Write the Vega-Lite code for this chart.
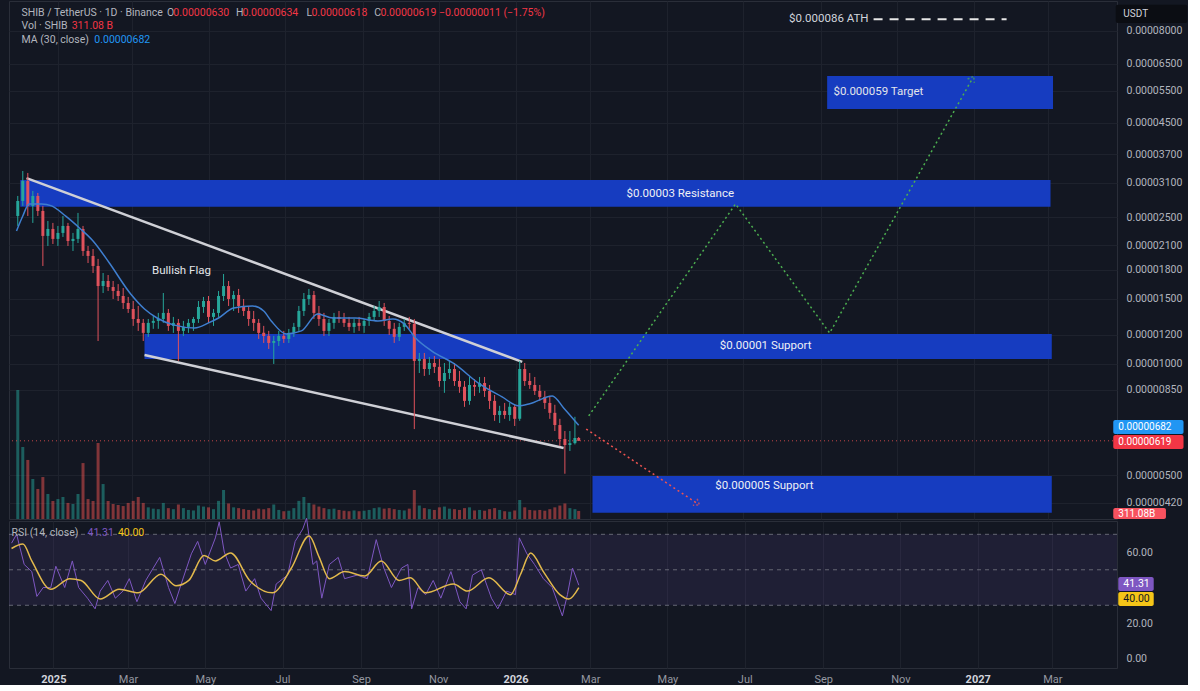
{
  "$schema": "https://vega.github.io/schema/vega-lite/v6.json",
  "background": "#131722",
  "padding": {"left": 8, "top": 0, "right": 0, "bottom": 0},
  "spacing": 2,
  "bounds": "flush",
  "datasets": {
    "candles": [
      {"d":"2024-11-30","o":2.518e-5,"h":2.853e-5,"l":2.366e-5,"c":2.765e-5,"v":4980},
      {"d":"2024-12-04","o":2.765e-5,"h":3.334e-5,"l":2.681e-5,"c":3.133e-5,"v":2780},
      {"d":"2024-12-08","o":3.133e-5,"h":3.293e-5,"l":2.518e-5,"c":2.681e-5,"v":2280},
      {"d":"2024-12-12","o":2.681e-5,"h":2.943e-5,"l":2.411e-5,"c":2.853e-5,"v":1545},
      {"d":"2024-12-16","o":2.853e-5,"h":2.907e-5,"l":2.518e-5,"c":2.598e-5,"v":1160},
      {"d":"2024-12-20","o":2.598e-5,"h":2.681e-5,"l":1.843e-5,"c":2.223e-5,"v":1620},
      {"d":"2024-12-24","o":2.223e-5,"h":2.441e-5,"l":2.088e-5,"c":2.322e-5,"v":965},
      {"d":"2024-12-28","o":2.322e-5,"h":2.411e-5,"l":2.114e-5,"c":2.182e-5,"v":695},
      {"d":"2025-01-01","o":2.182e-5,"h":2.366e-5,"l":2.088e-5,"c":2.265e-5,"v":770},
      {"d":"2025-01-05","o":2.265e-5,"h":2.518e-5,"l":2.209e-5,"c":2.366e-5,"v":850},
      {"d":"2025-01-09","o":2.366e-5,"h":2.411e-5,"l":2.088e-5,"c":2.154e-5,"v":620},
      {"d":"2025-01-13","o":2.154e-5,"h":2.265e-5,"l":2.024e-5,"c":2.182e-5,"v":580},
      {"d":"2025-01-17","o":2.182e-5,"h":2.566e-5,"l":2.127e-5,"c":2.322e-5,"v":965},
      {"d":"2025-01-21","o":2.322e-5,"h":2.366e-5,"l":1.962e-5,"c":2.024e-5,"v":2160},
      {"d":"2025-01-25","o":2.024e-5,"h":2.088e-5,"l":1.877e-5,"c":1.962e-5,"v":770},
      {"d":"2025-01-29","o":1.962e-5,"h":2.049e-5,"l":1.764e-5,"c":1.843e-5,"v":695},
      {"d":"2025-02-02","o":1.843e-5,"h":1.926e-5,"l":1.154e-5,"c":1.626e-5,"v":2935},
      {"d":"2025-02-06","o":1.626e-5,"h":1.764e-5,"l":1.557e-5,"c":1.678e-5,"v":1350},
      {"d":"2025-02-10","o":1.678e-5,"h":1.742e-5,"l":1.577e-5,"c":1.616e-5,"v":695},
      {"d":"2025-02-14","o":1.616e-5,"h":1.678e-5,"l":1.5e-5,"c":1.577e-5,"v":580},
      {"d":"2025-02-18","o":1.577e-5,"h":1.646e-5,"l":1.481e-5,"c":1.528e-5,"v":540},
      {"d":"2025-02-22","o":1.528e-5,"h":1.606e-5,"l":1.409e-5,"c":1.463e-5,"v":500},
      {"d":"2025-02-26","o":1.463e-5,"h":1.519e-5,"l":1.375e-5,"c":1.409e-5,"v":620},
      {"d":"2025-03-02","o":1.409e-5,"h":1.481e-5,"l":1.268e-5,"c":1.324e-5,"v":700},
      {"d":"2025-03-06","o":1.324e-5,"h":1.436e-5,"l":1.229e-5,"c":1.292e-5,"v":850},
      {"d":"2025-03-10","o":1.292e-5,"h":1.324e-5,"l":1.154e-5,"c":1.214e-5,"v":620},
      {"d":"2025-03-14","o":1.214e-5,"h":1.324e-5,"l":1.184e-5,"c":1.292e-5,"v":450},
      {"d":"2025-03-18","o":1.292e-5,"h":1.349e-5,"l":1.245e-5,"c":1.308e-5,"v":400},
      {"d":"2025-03-22","o":1.308e-5,"h":1.375e-5,"l":1.245e-5,"c":1.324e-5,"v":380},
      {"d":"2025-03-26","o":1.324e-5,"h":1.557e-5,"l":1.292e-5,"c":1.375e-5,"v":620},
      {"d":"2025-03-30","o":1.375e-5,"h":1.409e-5,"l":1.229e-5,"c":1.268e-5,"v":420},
      {"d":"2025-04-03","o":1.268e-5,"h":1.341e-5,"l":1.214e-5,"c":1.292e-5,"v":380},
      {"d":"2025-04-07","o":1.292e-5,"h":1.324e-5,"l":1.019e-5,"c":1.229e-5,"v":560},
      {"d":"2025-04-11","o":1.229e-5,"h":1.308e-5,"l":1.191e-5,"c":1.26e-5,"v":420},
      {"d":"2025-04-15","o":1.26e-5,"h":1.324e-5,"l":1.214e-5,"c":1.292e-5,"v":350},
      {"d":"2025-04-19","o":1.292e-5,"h":1.341e-5,"l":1.229e-5,"c":1.324e-5,"v":330},
      {"d":"2025-04-23","o":1.324e-5,"h":1.481e-5,"l":1.292e-5,"c":1.427e-5,"v":520},
      {"d":"2025-04-27","o":1.427e-5,"h":1.519e-5,"l":1.375e-5,"c":1.481e-5,"v":480},
      {"d":"2025-05-01","o":1.481e-5,"h":1.528e-5,"l":1.292e-5,"c":1.341e-5,"v":450},
      {"d":"2025-05-05","o":1.341e-5,"h":1.409e-5,"l":1.268e-5,"c":1.375e-5,"v":380},
      {"d":"2025-05-09","o":1.375e-5,"h":1.577e-5,"l":1.341e-5,"c":1.528e-5,"v":700},
      {"d":"2025-05-13","o":1.528e-5,"h":1.753e-5,"l":1.481e-5,"c":1.626e-5,"v":1120},
      {"d":"2025-05-17","o":1.626e-5,"h":1.678e-5,"l":1.436e-5,"c":1.5e-5,"v":600},
      {"d":"2025-05-21","o":1.5e-5,"h":1.577e-5,"l":1.392e-5,"c":1.538e-5,"v":450},
      {"d":"2025-05-25","o":1.538e-5,"h":1.597e-5,"l":1.375e-5,"c":1.436e-5,"v":420},
      {"d":"2025-05-29","o":1.436e-5,"h":1.5e-5,"l":1.349e-5,"c":1.392e-5,"v":380},
      {"d":"2025-06-02","o":1.392e-5,"h":1.436e-5,"l":1.268e-5,"c":1.324e-5,"v":350},
      {"d":"2025-06-06","o":1.324e-5,"h":1.392e-5,"l":1.229e-5,"c":1.292e-5,"v":330},
      {"d":"2025-06-10","o":1.292e-5,"h":1.324e-5,"l":1.169e-5,"c":1.214e-5,"v":400},
      {"d":"2025-06-14","o":1.214e-5,"h":1.268e-5,"l":1.14e-5,"c":1.191e-5,"v":380},
      {"d":"2025-06-18","o":1.191e-5,"h":1.229e-5,"l":1.098e-5,"c":1.14e-5,"v":420},
      {"d":"2025-06-22","o":1.14e-5,"h":1.191e-5,"l":1.0e-5,"c":1.154e-5,"v":560},
      {"d":"2025-06-26","o":1.154e-5,"h":1.229e-5,"l":1.119e-5,"c":1.191e-5,"v":350},
      {"d":"2025-06-30","o":1.191e-5,"h":1.229e-5,"l":1.14e-5,"c":1.169e-5,"v":300},
      {"d":"2025-07-04","o":1.169e-5,"h":1.244e-5,"l":1.14e-5,"c":1.214e-5,"v":320},
      {"d":"2025-07-08","o":1.214e-5,"h":1.292e-5,"l":1.184e-5,"c":1.26e-5,"v":420},
      {"d":"2025-07-12","o":1.26e-5,"h":1.436e-5,"l":1.229e-5,"c":1.392e-5,"v":700},
      {"d":"2025-07-16","o":1.392e-5,"h":1.557e-5,"l":1.349e-5,"c":1.5e-5,"v":850},
      {"d":"2025-07-20","o":1.5e-5,"h":1.597e-5,"l":1.445e-5,"c":1.538e-5,"v":620},
      {"d":"2025-07-24","o":1.538e-5,"h":1.577e-5,"l":1.324e-5,"c":1.375e-5,"v":560},
      {"d":"2025-07-28","o":1.375e-5,"h":1.436e-5,"l":1.268e-5,"c":1.324e-5,"v":480},
      {"d":"2025-08-01","o":1.324e-5,"h":1.375e-5,"l":1.191e-5,"c":1.229e-5,"v":420},
      {"d":"2025-08-05","o":1.229e-5,"h":1.324e-5,"l":1.191e-5,"c":1.292e-5,"v":380},
      {"d":"2025-08-09","o":1.292e-5,"h":1.375e-5,"l":1.245e-5,"c":1.341e-5,"v":400},
      {"d":"2025-08-13","o":1.341e-5,"h":1.392e-5,"l":1.292e-5,"c":1.324e-5,"v":350},
      {"d":"2025-08-17","o":1.324e-5,"h":1.375e-5,"l":1.26e-5,"c":1.292e-5,"v":320},
      {"d":"2025-08-21","o":1.292e-5,"h":1.341e-5,"l":1.229e-5,"c":1.26e-5,"v":300},
      {"d":"2025-08-25","o":1.26e-5,"h":1.324e-5,"l":1.214e-5,"c":1.292e-5,"v":330},
      {"d":"2025-08-29","o":1.292e-5,"h":1.341e-5,"l":1.229e-5,"c":1.268e-5,"v":300},
      {"d":"2025-09-02","o":1.268e-5,"h":1.324e-5,"l":1.214e-5,"c":1.308e-5,"v":320},
      {"d":"2025-09-06","o":1.308e-5,"h":1.375e-5,"l":1.268e-5,"c":1.341e-5,"v":350},
      {"d":"2025-09-10","o":1.341e-5,"h":1.436e-5,"l":1.308e-5,"c":1.392e-5,"v":420},
      {"d":"2025-09-14","o":1.392e-5,"h":1.481e-5,"l":1.341e-5,"c":1.427e-5,"v":450},
      {"d":"2025-09-18","o":1.427e-5,"h":1.463e-5,"l":1.268e-5,"c":1.308e-5,"v":400},
      {"d":"2025-09-22","o":1.308e-5,"h":1.349e-5,"l":1.198e-5,"c":1.245e-5,"v":420},
      {"d":"2025-09-26","o":1.245e-5,"h":1.292e-5,"l":1.14e-5,"c":1.184e-5,"v":380},
      {"d":"2025-09-30","o":1.184e-5,"h":1.292e-5,"l":1.154e-5,"c":1.26e-5,"v":350},
      {"d":"2025-10-04","o":1.26e-5,"h":1.324e-5,"l":1.229e-5,"c":1.292e-5,"v":330},
      {"d":"2025-10-08","o":1.292e-5,"h":1.341e-5,"l":1.245e-5,"c":1.284e-5,"v":400},
      {"d":"2025-10-12","o":1.284e-5,"h":1.324e-5,"l":6.66e-6,"c":1.019e-5,"v":1120},
      {"d":"2025-10-16","o":1.019e-5,"h":1.071e-5,"l":9.45e-6,"c":1.032e-5,"v":520},
      {"d":"2025-10-20","o":1.032e-5,"h":1.071e-5,"l":9.28e-6,"c":9.69e-6,"v":420},
      {"d":"2025-10-24","o":9.69e-6,"h":1.044e-5,"l":9.34e-6,"c":1.006e-5,"v":380},
      {"d":"2025-10-28","o":1.006e-5,"h":1.051e-5,"l":9.45e-6,"c":9.82e-6,"v":350},
      {"d":"2025-11-01","o":9.82e-6,"h":1.032e-5,"l":8.67e-6,"c":8.99e-6,"v":450},
      {"d":"2025-11-05","o":8.99e-6,"h":1.006e-5,"l":8.35e-6,"c":9.45e-6,"v":480},
      {"d":"2025-11-09","o":9.45e-6,"h":1.019e-5,"l":9.1e-6,"c":9.69e-6,"v":400},
      {"d":"2025-11-13","o":9.69e-6,"h":1.006e-5,"l":8.72e-6,"c":8.99e-6,"v":380},
      {"d":"2025-11-17","o":8.99e-6,"h":9.57e-6,"l":8.35e-6,"c":8.67e-6,"v":350},
      {"d":"2025-11-21","o":8.67e-6,"h":8.99e-6,"l":7.65e-6,"c":7.94e-6,"v":420},
      {"d":"2025-11-25","o":7.94e-6,"h":9.22e-6,"l":7.75e-6,"c":8.77e-6,"v":450},
      {"d":"2025-11-29","o":8.77e-6,"h":9.1e-6,"l":8.19e-6,"c":8.67e-6,"v":330},
      {"d":"2025-12-03","o":8.67e-6,"h":9.22e-6,"l":8.35e-6,"c":8.88e-6,"v":350},
      {"d":"2025-12-07","o":8.88e-6,"h":9.22e-6,"l":8.14e-6,"c":8.45e-6,"v":320},
      {"d":"2025-12-11","o":8.45e-6,"h":8.77e-6,"l":7.55e-6,"c":7.94e-6,"v":380},
      {"d":"2025-12-15","o":7.94e-6,"h":8.24e-6,"l":7.01e-6,"c":7.27e-6,"v":420},
      {"d":"2025-12-19","o":7.27e-6,"h":7.7e-6,"l":6.92e-6,"c":7.46e-6,"v":350},
      {"d":"2025-12-23","o":7.46e-6,"h":7.84e-6,"l":7.1e-6,"c":7.27e-6,"v":300},
      {"d":"2025-12-27","o":7.27e-6,"h":7.84e-6,"l":7.01e-6,"c":7.65e-6,"v":280},
      {"d":"2025-12-31","o":7.65e-6,"h":7.75e-6,"l":6.79e-6,"c":7.1e-6,"v":330},
      {"d":"2026-01-04","o":7.1e-6,"h":1.019e-5,"l":7.01e-6,"c":9.69e-6,"v":735},
      {"d":"2026-01-08","o":9.69e-6,"h":1.006e-5,"l":8.72e-6,"c":8.99e-6,"v":450},
      {"d":"2026-01-12","o":8.99e-6,"h":9.45e-6,"l":8.56e-6,"c":8.77e-6,"v":350},
      {"d":"2026-01-16","o":8.77e-6,"h":9.22e-6,"l":8.24e-6,"c":8.45e-6,"v":330},
      {"d":"2026-01-20","o":8.45e-6,"h":8.77e-6,"l":7.94e-6,"c":8.14e-6,"v":350},
      {"d":"2026-01-24","o":8.14e-6,"h":8.45e-6,"l":7.55e-6,"c":7.84e-6,"v":320},
      {"d":"2026-01-28","o":7.84e-6,"h":8.14e-6,"l":7.1e-6,"c":7.37e-6,"v":380},
      {"d":"2026-02-01","o":7.37e-6,"h":7.75e-6,"l":6.58e-6,"c":6.83e-6,"v":450},
      {"d":"2026-02-05","o":6.83e-6,"h":7.1e-6,"l":5.99e-6,"c":6.26e-6,"v":520},
      {"d":"2026-02-09","o":6.26e-6,"h":6.58e-6,"l":5.04e-6,"c":6.03e-6,"v":600},
      {"d":"2026-02-13","o":6.03e-6,"h":6.58e-6,"l":5.81e-6,"c":6.1e-6,"v":420},
      {"d":"2026-02-17","o":6.1e-6,"h":7.19e-6,"l":6.05e-6,"c":6.3e-6,"v":380},
      {"d":"2026-02-20","o":6.3e-6,"h":6.34e-6,"l":6.18e-6,"c":6.19e-6,"v":311.08}
    ],
    "ma": [
      {"d":"2024-11-29","ma":2.293e-5},{"d":"2024-12-04","ma":2.518e-5},{"d":"2024-12-09","ma":2.714e-5},
      {"d":"2024-12-19","ma":2.714e-5},{"d":"2024-12-27","ma":2.681e-5},{"d":"2025-01-07","ma":2.518e-5},
      {"d":"2025-01-19","ma":2.322e-5},{"d":"2025-01-29","ma":2.154e-5},{"d":"2025-02-11","ma":1.877e-5},
      {"d":"2025-02-28","ma":1.547e-5},{"d":"2025-03-11","ma":1.409e-5},{"d":"2025-03-21","ma":1.332e-5},
      {"d":"2025-04-03","ma":1.276e-5},{"d":"2025-04-20","ma":1.252e-5},{"d":"2025-05-01","ma":1.292e-5},
      {"d":"2025-05-09","ma":1.332e-5},{"d":"2025-05-21","ma":1.418e-5},{"d":"2025-06-05","ma":1.436e-5},
      {"d":"2025-06-14","ma":1.392e-5},{"d":"2025-06-20","ma":1.308e-5},{"d":"2025-07-02","ma":1.206e-5},
      {"d":"2025-07-14","ma":1.229e-5},{"d":"2025-07-27","ma":1.366e-5},{"d":"2025-08-08","ma":1.332e-5},
      {"d":"2025-08-26","ma":1.332e-5},{"d":"2025-09-13","ma":1.308e-5},{"d":"2025-09-25","ma":1.324e-5},
      {"d":"2025-10-04","ma":1.284e-5},{"d":"2025-10-13","ma":1.176e-5},{"d":"2025-10-26","ma":1.084e-5},
      {"d":"2025-11-13","ma":1.0e-5},{"d":"2025-12-03","ma":8.83e-6},{"d":"2025-12-21","ma":8.14e-6},
      {"d":"2026-01-03","ma":7.7e-6},{"d":"2026-01-12","ma":7.8e-6},{"d":"2026-01-30","ma":8.19e-6},
      {"d":"2026-02-08","ma":7.6e-6},{"d":"2026-02-20","ma":6.82e-6}
    ],
    "rsi": [
      {"d":"2024-11-29","rsi":65},{"d":"2024-12-03","rsi":70},{"d":"2024-12-09","rsi":53},{"d":"2024-12-15","rsi":49},
      {"d":"2024-12-19","rsi":35},{"d":"2024-12-24","rsi":40},{"d":"2024-12-30","rsi":40},{"d":"2025-01-03","rsi":52},
      {"d":"2025-01-10","rsi":40},{"d":"2025-01-16","rsi":55},{"d":"2025-01-21","rsi":40},{"d":"2025-01-28","rsi":34},
      {"d":"2025-02-03","rsi":28},{"d":"2025-02-07","rsi":38},{"d":"2025-02-13","rsi":44},{"d":"2025-02-19","rsi":34},
      {"d":"2025-02-25","rsi":38},{"d":"2025-03-02","rsi":45},{"d":"2025-03-08","rsi":32},{"d":"2025-03-15","rsi":44},
      {"d":"2025-03-26","rsi":57},{"d":"2025-04-02","rsi":40},{"d":"2025-04-07","rsi":31},{"d":"2025-04-12","rsi":42},
      {"d":"2025-04-20","rsi":59},{"d":"2025-04-25","rsi":66},{"d":"2025-05-01","rsi":53},{"d":"2025-05-09","rsi":68},
      {"d":"2025-05-12","rsi":77},{"d":"2025-05-16","rsi":60},{"d":"2025-05-21","rsi":51},{"d":"2025-05-27","rsi":53},
      {"d":"2025-06-02","rsi":38},{"d":"2025-06-09","rsi":45},{"d":"2025-06-14","rsi":34},{"d":"2025-06-22","rsi":27},
      {"d":"2025-06-26","rsi":42},{"d":"2025-07-05","rsi":47},{"d":"2025-07-11","rsi":66},{"d":"2025-07-17","rsi":73},
      {"d":"2025-07-20","rsi":79},{"d":"2025-07-25","rsi":53},{"d":"2025-07-28","rsi":55},{"d":"2025-08-01","rsi":34},
      {"d":"2025-08-07","rsi":53},{"d":"2025-08-14","rsi":57},{"d":"2025-08-19","rsi":45},{"d":"2025-08-29","rsi":47},
      {"d":"2025-09-06","rsi":45},{"d":"2025-09-13","rsi":67},{"d":"2025-09-19","rsi":51},{"d":"2025-09-25","rsi":40},
      {"d":"2025-10-03","rsi":51},{"d":"2025-10-08","rsi":53},{"d":"2025-10-11","rsi":28},{"d":"2025-10-16","rsi":40},
      {"d":"2025-10-22","rsi":36},{"d":"2025-10-28","rsi":44},{"d":"2025-11-03","rsi":34},{"d":"2025-11-11","rsi":49},
      {"d":"2025-11-18","rsi":32},{"d":"2025-11-23","rsi":28},{"d":"2025-11-28","rsi":47},{"d":"2025-12-05","rsi":50},
      {"d":"2025-12-13","rsi":34},{"d":"2025-12-18","rsi":28},{"d":"2025-12-25","rsi":38},{"d":"2026-01-01","rsi":36},
      {"d":"2026-01-04","rsi":68},{"d":"2026-01-10","rsi":59},{"d":"2026-01-16","rsi":53},{"d":"2026-01-23","rsi":45},
      {"d":"2026-01-30","rsi":40},{"d":"2026-02-02","rsi":34},{"d":"2026-02-07","rsi":24},{"d":"2026-02-11","rsi":36},
      {"d":"2026-02-15","rsi":51},{"d":"2026-02-20","rsi":41.31}
    ],
    "rsima": [
      {"d":"2024-11-29","m":62},{"d":"2024-12-08","m":64.5},{"d":"2024-12-15","m":55},{"d":"2024-12-30","m":39},
      {"d":"2025-01-14","m":45},{"d":"2025-01-23","m":44},{"d":"2025-02-07","m":33.5},{"d":"2025-02-22","m":39},
      {"d":"2025-03-09","m":37},{"d":"2025-03-27","m":47.5},{"d":"2025-04-08","m":41},{"d":"2025-04-18","m":44},
      {"d":"2025-04-30","m":58},{"d":"2025-05-09","m":55},{"d":"2025-05-21","m":59.5},{"d":"2025-06-05","m":44},
      {"d":"2025-06-23","m":37},{"d":"2025-07-08","m":51},{"d":"2025-07-22","m":69},{"d":"2025-07-30","m":57},
      {"d":"2025-08-07","m":45},{"d":"2025-08-19","m":49},{"d":"2025-09-04","m":46.5},{"d":"2025-09-17","m":55},
      {"d":"2025-10-01","m":44},{"d":"2025-10-10","m":45.5},{"d":"2025-10-22","m":37},{"d":"2025-11-13","m":42},
      {"d":"2025-11-24","m":38},{"d":"2025-12-11","m":45.5},{"d":"2025-12-28","m":36},{"d":"2026-01-05","m":47.5},
      {"d":"2026-01-13","m":59.5},{"d":"2026-01-23","m":49},{"d":"2026-02-05","m":36},{"d":"2026-02-12","m":33.5},
      {"d":"2026-02-20","m":40}
    ],
    "zones": [
      {"name":"Target","start":"2026-09-06","end":"2027-03-05","low":4.91e-5,"high":6.03e-5},
      {"name":"Resistance","start":"2024-12-02","end":"2027-03-03","low":2.665e-5,"high":3.15e-5},
      {"name":"Support 1","start":"2025-03-11","end":"2027-03-04","low":1.032e-5,"high":1.206e-5},
      {"name":"Support 2","start":"2026-03-03","end":"2027-03-04","low":3.95e-6,"high":4.97e-6}
    ],
    "zoneLabels": [
      {"txt":"$0.00003 Resistance","d":"2026-05-12","p":2.89e-5},
      {"txt":"$0.00001 Support","d":"2026-07-19","p":1.119e-5},
      {"txt":"$0.000005 Support","d":"2026-07-18","p":4.67e-6}
    ],
    "noteLabels": [
      {"txt":"$0.000059 Target","d":"2026-09-11","p":5.46e-5},
      {"txt":"Bullish Flag","d":"2025-03-17","p":1.786e-5}
    ],
    "trend": [
      {"d1":"2024-12-07","p1":3.19e-5,"d2":"2026-01-06","p2":1.013e-5},
      {"d1":"2025-03-11","p1":1.057e-5,"d2":"2026-02-08","p2":5.92e-6}
    ],
    "pathUp": [
      {"d":"2026-02-28","p":7.23e-6},
      {"d":"2026-06-25","p":2.714e-5},
      {"d":"2026-09-08","p":1.213e-5},
      {"d":"2026-12-31","p":5.957e-5}
    ],
    "pathDown": [
      {"d":"2026-02-26","p":6.66e-6},
      {"d":"2026-05-26","p":4.175e-6}
    ],
    "hdr": [
      {"kind":"label","txt":"SHIB / TetherUS · 1D · Binance","d":"2024-12-03","p":8.91e-5},
      {"kind":"label","txt":"O","d":"2025-03-29","p":8.91e-5},
      {"kind":"down","txt":"0.00000630","d":"2025-04-03","p":8.91e-5},
      {"kind":"label","txt":"H","d":"2025-05-23","p":8.91e-5},
      {"kind":"down","txt":"0.00000634","d":"2025-05-28","p":8.91e-5},
      {"kind":"label","txt":"L","d":"2025-07-18","p":8.91e-5},
      {"kind":"down","txt":"0.00000618","d":"2025-07-22","p":8.91e-5},
      {"kind":"label","txt":"C","d":"2025-09-10","p":8.91e-5},
      {"kind":"down","txt":"0.00000619  −0.00000011 (−1.75%)","d":"2025-09-15","p":8.91e-5},
      {"kind":"label","txt":"Vol · SHIB","d":"2024-12-03","p":8.22e-5},
      {"kind":"down","txt":"311.08 B","d":"2025-01-12","p":8.22e-5},
      {"kind":"label","txt":"MA (30, close)","d":"2024-12-03","p":7.55e-5},
      {"kind":"ma","txt":"0.00000682","d":"2025-01-30","p":7.55e-5}
    ],
    "tags": [
      {"kind":"ccy","txt":"USDT","d1":"2027-04-24","d2":"2027-06-20","dt":"2027-04-30","lo":8.4e-5,"hi":9.4e-5,"mid":8.87e-5},
      {"kind":"ma","txt":"0.00000682","d1":"2027-04-22","d2":"2027-06-17","dt":"2027-04-26","lo":6.46e-6,"hi":7.05e-6,"mid":6.74e-6},
      {"kind":"down","txt":"0.00000619","d1":"2027-04-22","d2":"2027-06-17","dt":"2027-04-26","lo":5.88e-6,"hi":6.42e-6,"mid":6.14e-6},
      {"kind":"vol","txt":"311.08B","d1":"2027-04-22","d2":"2027-06-03","dt":"2027-04-26","lo":3.8e-6,"hi":4.07e-6,"mid":3.915e-6}
    ],
    "rsiHdr": [
      {"kind":"label","txt":"RSI (14, close)","d":"2024-11-29","r":71},
      {"kind":"rsi","txt":"41.31","d":"2025-01-28","r":71},
      {"kind":"rsima","txt":"40.00","d":"2025-02-21","r":71}
    ],
    "rsiTags": [
      {"kind":"rsi","txt":"41.31","d1":"2027-04-22","d2":"2027-05-20","dt":"2027-04-26","lo":38.0,"hi":45.9,"mid":42.0},
      {"kind":"rsima","txt":"40.00","d1":"2027-04-22","d2":"2027-05-20","dt":"2027-04-26","lo":29.6,"hi":37.5,"mid":33.5}
    ]
  },
  "vconcat": [
    {
      "width": 1108,
      "height": 518,
      "layer": [
        {
          "data": {"name": "candles"},
          "mark": {"type": "bar", "size": 3, "opacity": 0.5},
          "encoding": {
            "x": {"field": "d", "type": "temporal",
              "scale": {"type": "utc", "domain": [{"year": 2024, "month": 11, "date": 27, "utc": true}, {"year": 2027, "month": 4, "date": 21, "utc": true}]},
              "axis": {"values": [
                {"year": 2025, "month": 1, "date": 1, "utc": true}, {"year": 2025, "month": 3, "date": 1, "utc": true},
                {"year": 2025, "month": 5, "date": 1, "utc": true}, {"year": 2025, "month": 7, "date": 1, "utc": true},
                {"year": 2025, "month": 9, "date": 1, "utc": true}, {"year": 2025, "month": 11, "date": 1, "utc": true},
                {"year": 2026, "month": 1, "date": 1, "utc": true}, {"year": 2026, "month": 3, "date": 1, "utc": true},
                {"year": 2026, "month": 5, "date": 1, "utc": true}, {"year": 2026, "month": 7, "date": 1, "utc": true},
                {"year": 2026, "month": 9, "date": 1, "utc": true}, {"year": 2026, "month": 11, "date": 1, "utc": true},
                {"year": 2027, "month": 1, "date": 1, "utc": true}, {"year": 2027, "month": 3, "date": 1, "utc": true}],
                "labels": false, "ticks": false, "domain": false, "grid": true, "gridColor": "#1e222d", "title": null}},
            "y": {"field": "v", "type": "quantitative", "scale": {"domain": [0, 20000], "nice": false}, "axis": null},
            "color": {"condition": {"test": "datum.c >= datum.o", "value": "#26a69a"}, "value": "#ef5350"}
          }
        },
        {
          "layer": [
            {
              "data": {"name": "zones"},
              "mark": {"type": "rect", "color": "#163cc0"},
              "encoding": {
                "x": {"field": "start", "type": "temporal"},
                "x2": {"field": "end"},
                "y": {"field": "low", "type": "quantitative",
                  "scale": {"type": "log", "domain": [0.0000038, 0.0000963], "nice": false},
                  "axis": {"orient": "right", "values": [4.2e-6, 5e-6, 8.5e-6, 1e-5, 1.2e-5, 1.5e-5, 1.8e-5, 2.1e-5, 2.5e-5, 3.1e-5, 3.7e-5, 4.5e-5, 5.5e-5, 6.5e-5, 8e-5],
                    "format": ".8f", "labelColor": "#b2b5be", "labelFontSize": 10.5, "labelPadding": 9, "labelOverlap": false,
                    "grid": true, "gridColor": "#1e222d", "ticks": false, "domain": false, "title": null}},
                "y2": {"field": "high"}
              }
            },
            {
              "data": {"values": [{"p": 6.19e-6}]},
              "mark": {"type": "rule", "color": "#ef5350", "strokeDash": [1, 3], "opacity": 0.8},
              "encoding": {"y": {"field": "p", "type": "quantitative"}}
            },
            {
              "data": {"name": "trend"},
              "mark": {"type": "rule", "color": "#cfd0d6", "strokeWidth": 2.5},
              "encoding": {
                "x": {"field": "d1", "type": "temporal"}, "x2": {"field": "d2"},
                "y": {"field": "p1", "type": "quantitative"}, "y2": {"field": "p2"}
              }
            },
            {
              "data": {"name": "candles"},
              "mark": {"type": "rule", "strokeWidth": 1},
              "encoding": {
                "x": {"field": "d", "type": "temporal"},
                "y": {"field": "l", "type": "quantitative"}, "y2": {"field": "h"},
                "color": {"condition": {"test": "datum.c >= datum.o", "value": "#26a69a"}, "value": "#e0525c"}
              }
            },
            {
              "data": {"name": "candles"},
              "mark": {"type": "bar", "size": 3},
              "encoding": {
                "x": {"field": "d", "type": "temporal"},
                "y": {"field": "o", "type": "quantitative"}, "y2": {"field": "c"},
                "color": {"condition": {"test": "datum.c >= datum.o", "value": "#26a69a"}, "value": "#e0525c"}
              }
            },
            {
              "data": {"name": "ma"},
              "mark": {"type": "line", "color": "#3f7fd0", "strokeWidth": 1.5, "interpolate": "monotone"},
              "encoding": {
                "x": {"field": "d", "type": "temporal"},
                "y": {"field": "ma", "type": "quantitative"}
              }
            },
            {
              "data": {"name": "pathUp"},
              "mark": {"type": "line", "color": "#4caf50", "strokeDash": [2, 3], "strokeWidth": 1.5},
              "encoding": {
                "x": {"field": "d", "type": "temporal"},
                "y": {"field": "p", "type": "quantitative"}
              }
            },
            {
              "data": {"name": "pathDown"},
              "mark": {"type": "line", "color": "#ef5350", "strokeDash": [2, 3], "strokeWidth": 1.5},
              "encoding": {
                "x": {"field": "d", "type": "temporal"},
                "y": {"field": "p", "type": "quantitative"}
              }
            },
            {
              "data": {"values": [{"d": "2026-12-31", "p": 5.957e-5}]},
              "mark": {"type": "point", "shape": "M-1,0.9L0,-0.5L1,0.9", "filled": false, "size": 60, "angle": 30, "color": "#4caf50", "strokeWidth": 1.5, "strokeDash": [2, 2]},
              "encoding": {
                "x": {"field": "d", "type": "temporal"},
                "y": {"field": "p", "type": "quantitative"}
              }
            },
            {
              "data": {"values": [{"d": "2026-05-26", "p": 4.175e-6}]},
              "mark": {"type": "point", "shape": "M-1,0.9L0,-0.5L1,0.9", "filled": false, "size": 60, "angle": 124, "color": "#ef5350", "strokeWidth": 1.5, "strokeDash": [2, 2]},
              "encoding": {
                "x": {"field": "d", "type": "temporal"},
                "y": {"field": "p", "type": "quantitative"}
              }
            },
            {
              "data": {"values": [{"d1": "2026-10-13", "d2": "2027-01-27", "p": 8.6e-5}]},
              "mark": {"type": "rule", "color": "#e6e6e6", "strokeWidth": 2, "strokeDash": [9, 7]},
              "encoding": {
                "x": {"field": "d1", "type": "temporal"}, "x2": {"field": "d2"},
                "y": {"field": "p", "type": "quantitative"}
              }
            },
            {
              "data": {"values": [{"d": "2026-10-09", "p": 8.6e-5, "txt": "$0.000086 ATH"}]},
              "mark": {"type": "text", "align": "right", "baseline": "middle", "fontSize": 11.5, "color": "#d1d4dc"},
              "encoding": {
                "x": {"field": "d", "type": "temporal"},
                "y": {"field": "p", "type": "quantitative"},
                "text": {"field": "txt"}
              }
            },
            {
              "data": {"name": "zoneLabels"},
              "mark": {"type": "text", "align": "center", "baseline": "middle", "fontSize": 11.5, "color": "#eef0f5"},
              "encoding": {
                "x": {"field": "d", "type": "temporal"},
                "y": {"field": "p", "type": "quantitative"},
                "text": {"field": "txt"}
              }
            },
            {
              "data": {"name": "noteLabels"},
              "mark": {"type": "text", "align": "left", "baseline": "middle", "fontSize": 11.5, "color": "#e3e5ea"},
              "encoding": {
                "x": {"field": "d", "type": "temporal"},
                "y": {"field": "p", "type": "quantitative"},
                "text": {"field": "txt"}
              }
            },
            {
              "data": {"name": "hdr"},
              "mark": {"type": "text", "align": "left", "baseline": "middle", "fontSize": 10.5},
              "encoding": {
                "x": {"field": "d", "type": "temporal"},
                "y": {"field": "p", "type": "quantitative"},
                "text": {"field": "txt"},
                "color": {"field": "kind", "type": "nominal", "legend": null,
                  "scale": {"domain": ["label", "ccy", "ma", "down", "vol", "rsi", "rsima"], "range": ["#b2b5be", "#0b0d13", "#2196f3", "#f23645", "#f7525f", "#7e57c2", "#f5c518"]}}
              }
            },
            {
              "data": {"name": "tags"},
              "mark": {"type": "rect", "cornerRadius": 2},
              "encoding": {
                "x": {"field": "d1", "type": "temporal"}, "x2": {"field": "d2"},
                "y": {"field": "lo", "type": "quantitative"}, "y2": {"field": "hi"},
                "color": {"field": "kind", "type": "nominal", "legend": null,
                  "scale": {"domain": ["label", "ccy", "ma", "down", "vol", "rsi", "rsima"], "range": ["#b2b5be", "#0b0d13", "#2196f3", "#f23645", "#f7525f", "#7e57c2", "#f5c518"]}}
              }
            },
            {
              "data": {"name": "tags"},
              "mark": {"type": "text", "align": "left", "baseline": "middle", "fontSize": 10},
              "encoding": {
                "x": {"field": "dt", "type": "temporal"},
                "y": {"field": "mid", "type": "quantitative"},
                "text": {"field": "txt"},
                "color": {"condition": {"test": "datum.kind === 'ccy'", "value": "#d1d4dc"}, "value": "#ffffff"}
              }
            }
          ]
        }
      ],
      "resolve": {"scale": {"y": "independent"}}
    },
    {
      "width": 1108,
      "height": 147,
      "layer": [
        {
          "data": {"values": [{"lo": 30, "hi": 70}]},
          "mark": {"type": "rect", "color": "#7e57c2", "opacity": 0.12},
          "encoding": {
            "y": {"field": "lo", "type": "quantitative"}, "y2": {"field": "hi"}
          }
        },
        {
          "data": {"values": [{"lvl": 70}, {"lvl": 50}, {"lvl": 30}]},
          "mark": {"type": "rule", "color": "#787b86", "strokeDash": [4, 4], "opacity": 0.8},
          "encoding": {"y": {"field": "lvl", "type": "quantitative"}}
        },
        {
          "data": {"name": "rsi"},
          "mark": {"type": "line", "color": "#7e57c2", "strokeWidth": 1},
          "encoding": {
            "x": {"field": "d", "type": "temporal",
              "scale": {"type": "utc", "domain": [{"year": 2024, "month": 11, "date": 27, "utc": true}, {"year": 2027, "month": 4, "date": 21, "utc": true}]},
              "axis": {"values": [
                {"year": 2025, "month": 1, "date": 1, "utc": true}, {"year": 2025, "month": 3, "date": 1, "utc": true},
                {"year": 2025, "month": 5, "date": 1, "utc": true}, {"year": 2025, "month": 7, "date": 1, "utc": true},
                {"year": 2025, "month": 9, "date": 1, "utc": true}, {"year": 2025, "month": 11, "date": 1, "utc": true},
                {"year": 2026, "month": 1, "date": 1, "utc": true}, {"year": 2026, "month": 3, "date": 1, "utc": true},
                {"year": 2026, "month": 5, "date": 1, "utc": true}, {"year": 2026, "month": 7, "date": 1, "utc": true},
                {"year": 2026, "month": 9, "date": 1, "utc": true}, {"year": 2026, "month": 11, "date": 1, "utc": true},
                {"year": 2027, "month": 1, "date": 1, "utc": true}, {"year": 2027, "month": 3, "date": 1, "utc": true}],
                "labelExpr": "utcmonth(datum.value) === 0 ? utcFormat(datum.value, '%Y') : utcFormat(datum.value, '%b')",
                "labelFontWeight": {"condition": {"test": "utcmonth(datum.value) === 0", "value": "bold"}, "value": "normal"},
                "labelColor": {"condition": {"test": "utcmonth(datum.value) === 0", "value": "#d1d4dc"}, "value": "#9598a1"},
                "labelFontSize": 11, "labelPadding": 5, "labelOverlap": false,
                "ticks": false, "domain": false, "grid": true, "gridColor": "#1e222d", "title": null}},
            "y": {"field": "rsi", "type": "quantitative",
              "scale": {"domain": [-5.35, 77.5], "nice": false, "zero": false},
              "axis": {"orient": "right", "values": [0, 20, 60], "format": ".2f", "labelColor": "#b2b5be", "labelFontSize": 10.5,
                "labelPadding": 9, "grid": false, "ticks": false, "domain": false, "title": null}}
          }
        },
        {
          "data": {"name": "rsima"},
          "mark": {"type": "line", "color": "#e2b94c", "strokeWidth": 1.5, "interpolate": "monotone"},
          "encoding": {
            "x": {"field": "d", "type": "temporal"},
            "y": {"field": "m", "type": "quantitative"}
          }
        },
        {
          "data": {"name": "rsiHdr"},
          "mark": {"type": "text", "align": "left", "baseline": "middle", "fontSize": 10.5},
          "encoding": {
            "x": {"field": "d", "type": "temporal"},
            "y": {"field": "r", "type": "quantitative"},
            "text": {"field": "txt"},
            "color": {"field": "kind", "type": "nominal", "legend": null,
              "scale": {"domain": ["label", "ccy", "ma", "down", "vol", "rsi", "rsima"], "range": ["#b2b5be", "#0b0d13", "#2196f3", "#f23645", "#f7525f", "#8e6bd6", "#f5c518"]}}
          }
        },
        {
          "data": {"name": "rsiTags"},
          "mark": {"type": "rect", "cornerRadius": 2},
          "encoding": {
            "x": {"field": "d1", "type": "temporal"}, "x2": {"field": "d2"},
            "y": {"field": "lo", "type": "quantitative"}, "y2": {"field": "hi"},
            "color": {"field": "kind", "type": "nominal", "legend": null,
              "scale": {"domain": ["label", "ccy", "ma", "down", "vol", "rsi", "rsima"], "range": ["#b2b5be", "#0b0d13", "#2196f3", "#f23645", "#f7525f", "#8e6bd6", "#f5c518"]}}
          }
        },
        {
          "data": {"name": "rsiTags"},
          "mark": {"type": "text", "align": "left", "baseline": "middle", "fontSize": 10.5},
          "encoding": {
            "x": {"field": "dt", "type": "temporal"},
            "y": {"field": "mid", "type": "quantitative"},
            "text": {"field": "txt"},
            "color": {"condition": {"test": "datum.kind === 'rsima'", "value": "#131722"}, "value": "#ffffff"}
          }
        }
      ]
    }
  ],
  "config": {
    "font": "Roboto",
    "view": {"stroke": "#2a2e39"},
    "axis": {"labelFont": "Roboto"},
    "text": {"font": "Roboto"}
  }
}
